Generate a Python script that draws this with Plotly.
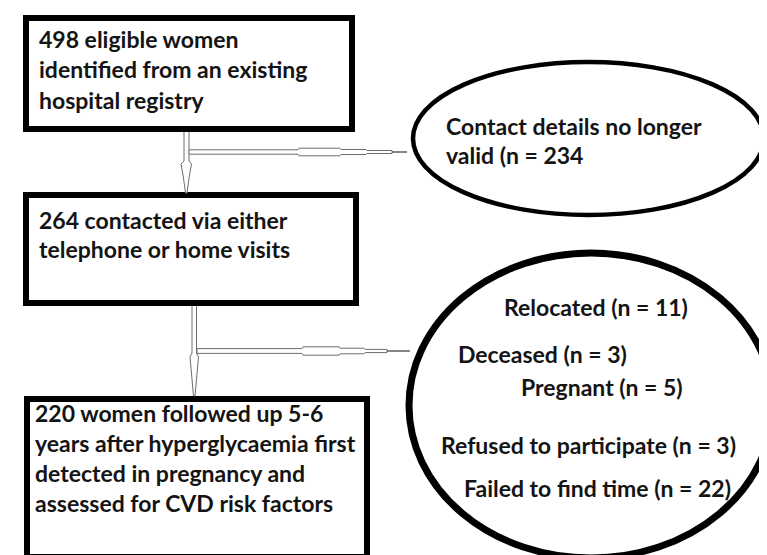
import plotly.graph_objects as go

# ---- content ----
box_texts = [
    ["498 eligible women", "identified from an existing", "hospital registry"],
    ["264 contacted via either", "telephone or home visits"],
    ["220 women followed up 5-6", "years after hyperglycaemia first",
     "detected in pregnancy and", "assessed for CVD risk factors"],
]
excl1_texts = ["Contact details no longer", "valid (n = 234"]
excl2_texts = ["Relocated (n = 11)", "Deceased (n = 3)", "Pregnant (n = 5)",
               "Refused to participate (n = 3)", "Failed to find time (n = 22)"]

# ---- layout geometry (pixels) ----
W, H = 767, 555
boxes = [(18, 10, 344, 121), (18, 187, 348, 295), (19, 391, 359, 549)]
box_text_pos = [(29, [31, 61, 92]), (29, [212, 241]), (25, [405, 435, 465, 495])]
ell1 = (405, 54, 756, 207)
ell2 = (401, 245, 765, 550)
ell1_pos = [(436, 118), (436, 147)]
ell2_pos = [(494, 299), (448, 346), (511, 379), (431, 437), (454, 480)]

FONT = "Lato, Carlito, 'Liberation Sans', sans-serif"
FS = 23
TXT = "#141414"
ARW = "#6e6e6e"

fig = go.Figure()
shapes = []
for (x0, y0, x1, y1) in boxes:
    shapes.append(dict(type="rect", x0=x0, y0=y0, x1=x1, y1=y1,
                       line=dict(color="black", width=6), fillcolor="rgba(0,0,0,0)"))
for (x0, y0, x1, y1), w in [(ell1, 4.5), (ell2, 7)]:
    shapes.append(dict(type="circle", x0=x0, y0=y0, x1=x1, y1=y1,
                       line=dict(color="black", width=w), fillcolor="rgba(0,0,0,0)"))


def poly(pts):
    return "M" + " L".join(f"{x},{y}" for x, y in pts) + " Z"


def hbranch(yc, segs):
    top, bot = [], []
    for (a, b, hw) in segs:
        top += [(a, yc - hw), (b, yc - hw)]
        bot += [(a, yc + hw), (b, yc + hw)]
    return poly(top + list(reversed(bot)))


# vertical arrows (hollow, tapering)
v1 = [(176, 124), (176, 153), (173, 156), (175.5, 170), (177.5, 185),
      (179, 185), (181, 170), (183.5, 156), (181, 153), (181, 124)]
v2 = [(184, 298), (184, 345), (182, 349), (183, 360), (185.5, 388),
      (187, 388), (189.5, 360), (190.5, 349), (188.5, 345), (188.5, 298)]
for v in (v1, v2):
    shapes.append(dict(type="path", path="M" + " L".join(f"{x},{y}" for x, y in v),
                       line=dict(color=ARW, width=1), fillcolor="white"))

for (yc, segs, tip) in [
    (144, [(181, 290, 2.2), (291, 332, 3.8), (333, 358, 2.5), (359, 384, 1.5)], 399),
    (343, [(189, 294, 2.4), (295, 331, 4.2), (332, 356, 2.8), (357, 379, 1.6)], 402),
]:
    shapes.append(dict(type="path", path=hbranch(yc, segs),
                       line=dict(color=ARW, width=1), fillcolor="white"))
    shapes.append(dict(type="line", x0=segs[-1][1], x1=tip, y0=yc, y1=yc,
                       line=dict(color="#444", width=1.3)))

annotations = []


def add_text(t, x, y):
    annotations.append(dict(x=x, y=y, text=f"<b>{t}</b>", xanchor="left", yanchor="middle",
                            showarrow=False, font=dict(family=FONT, size=FS, color=TXT)))


for lines, (x, ys) in zip(box_texts, box_text_pos):
    for t, y in zip(lines, ys):
        add_text(t, x, y)
for t, (x, y) in zip(excl1_texts, ell1_pos):
    add_text(t, x, y)
for t, (x, y) in zip(excl2_texts, ell2_pos):
    add_text(t, x, y)

fig.update_layout(
    width=W, height=H, margin=dict(l=0, r=0, t=0, b=0),
    paper_bgcolor="white", plot_bgcolor="white",
    xaxis=dict(range=[0, W], visible=False, fixedrange=True),
    yaxis=dict(range=[H, 0], visible=False, fixedrange=True),
    shapes=shapes, annotations=annotations, showlegend=False,
)
fig.write_html("out.html", config={"displayModeBar": False})
